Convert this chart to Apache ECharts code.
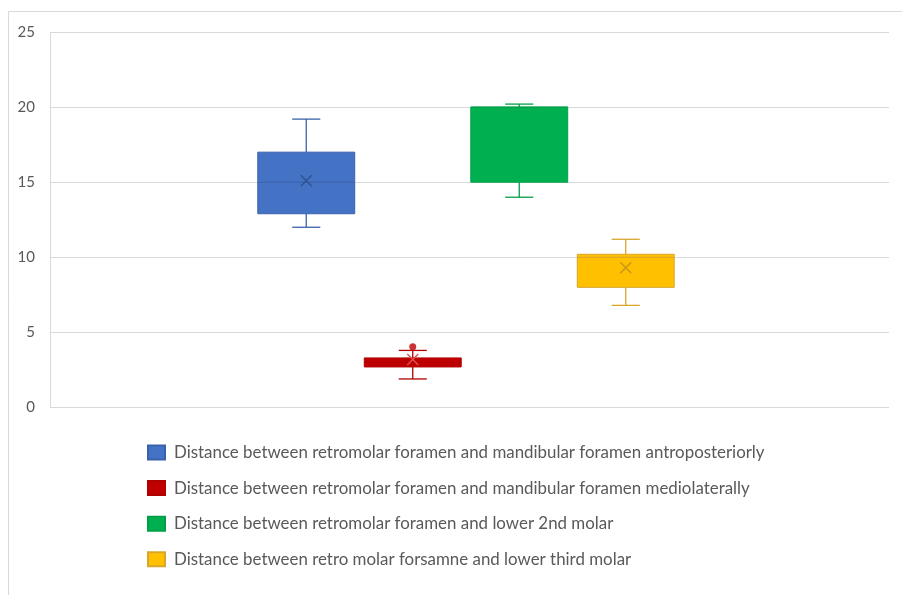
<!DOCTYPE html>
<html>
<head>
<meta charset="utf-8">
<script src="https://cdn.jsdelivr.net/npm/echarts@6/dist/echarts.min.js"></script>
<style>
html,body{margin:0;padding:0;background:#fff;}
#main{width:902px;height:595px;}
</style>
</head>
<body>
<div id="main"></div>
<script>
// ---- data ----
const seriesNames = [
  'Distance between retromolar foramen and mandibular foramen antroposteriorly',
  'Distance between retromolar foramen and mandibular foramen mediolaterally',
  'Distance between retromolar foramen and lower 2nd molar',
  'Distance between retro molar forsamne and lower third molar'
];
const slots = ['A', 'B', 'C', 'D'];
// [min, q1, median, q3, max]
const boxBlue   = [12.0, 12.9, 15.0, 17.0, 19.2];
const boxRed    = [1.9, 2.7, 3.0, 3.3, 3.8];
const boxGreen  = [14.0, 15.0, 20.0, 20.0, 20.2];
const boxYellow = [6.8, 8.0, 10.0, 10.2, 11.2];
const means = [15.1, 3.2, null, 9.3];
const outliersRed = [4.05];
const yTicks = [0, 5, 10, 15, 20, 25];

const fills   = ['#4472C4', '#C00000', '#00B050', '#FFC000'];
const borders = ['#3A62AC', '#B00000', '#00A048', '#D9A62A'];
const meanCol = ['#2F528F', '#E05050', '#00A048', '#C8961A'];
const boxes = [boxBlue, boxRed, boxGreen, boxYellow];

const chart = echarts.init(document.getElementById('main'));

function renderBox(params, api) {
  const xi = api.value(0);
  const v = [api.value(1), api.value(2), api.value(3), api.value(4), api.value(5)];
  const mean = api.value(6);
  const band = api.size([1, 0])[0];
  const bw = band * 0.91;
  const cw = bw * 0.29;
  const c = api.coord([xi, 0])[0];
  const y = v.map(t => api.coord([xi, t])[1]);
  const idx = params.seriesIndex;
  const stroke = borders[idx];
  const children = [
    {type: 'line', shape: {x1: c, y1: y[3], x2: c, y2: y[4]}, style: {stroke: stroke, lineWidth: 1.3}},
    {type: 'line', shape: {x1: c - cw / 2, y1: y[4], x2: c + cw / 2, y2: y[4]}, style: {stroke: stroke, lineWidth: 1.3}},
    {type: 'line', shape: {x1: c, y1: y[1], x2: c, y2: y[0]}, style: {stroke: stroke, lineWidth: 1.3}},
    {type: 'line', shape: {x1: c - cw / 2, y1: y[0], x2: c + cw / 2, y2: y[0]}, style: {stroke: stroke, lineWidth: 1.3}},
    {type: 'rect', shape: {x: c - bw / 2, y: y[3], width: bw, height: y[1] - y[3]}, style: {fill: fills[idx], stroke: stroke, lineWidth: 1}},
    {type: 'line', shape: {x1: c - bw / 2, y1: y[2], x2: c + bw / 2, y2: y[2]}, style: {stroke: stroke, lineWidth: 1}}
  ];
  if (mean != null && !isNaN(mean)) {
    const my = api.coord([xi, mean])[1];
    const s = 5.5;
    children.push({type: 'line', shape: {x1: c - s, y1: my - s, x2: c + s, y2: my + s}, style: {stroke: meanCol[idx], lineWidth: 1.4}});
    children.push({type: 'line', shape: {x1: c - s, y1: my + s, x2: c + s, y2: my - s}, style: {stroke: meanCol[idx], lineWidth: 1.4}});
  }
  return {type: 'group', children: children};
}

const series = boxes.map((b, i) => ({
  name: seriesNames[i],
  type: 'custom',
  xAxisIndex: 1,
  yAxisIndex: 1,
  itemStyle: {color: fills[i], borderColor: borders[i], borderWidth: 1},
  renderItem: renderBox,
  encode: {x: 0, y: [1, 2, 3, 4, 5]},
  data: [[i].concat(b).concat([means[i] == null ? NaN : means[i]])],
  z: 3
}));
series.push({
  name: 'outliers',
  type: 'scatter',
  xAxisIndex: 1,
  yAxisIndex: 1,
  symbolSize: 7,
  itemStyle: {color: '#C00000'},
  data: outliersRed.map(v => [1, v]),
  z: 4
});

const labelFont = 'Lato, "Open Sans", sans-serif';

chart.setOption({
  animation: false,
  backgroundColor: '#ffffff',
  graphic: [{
    type: 'polyline',
    shape: {points: [[8.5, 600], [8.5, 11.5], [905, 11.5]]},
    style: {stroke: '#D9D9D9', lineWidth: 1, fill: null},
    silent: true
  }],
  grid: [
    {left: 50, right: 13, top: 32, bottom: 187.5},
    {left: 253, width: 426, top: 32, bottom: 187.5}
  ],
  xAxis: [
    {gridIndex: 0, type: 'value', min: 0, max: 1, show: false},
    {gridIndex: 1, type: 'category', data: slots, show: false, boundaryGap: true}
  ],
  yAxis: [
    {
      gridIndex: 0, type: 'value', min: yTicks[0], max: yTicks[yTicks.length - 1], interval: 5,
      axisLine: {show: true, lineStyle: {color: '#D9D9D9'}},
      axisTick: {show: false},
      axisLabel: {color: '#595959', fontSize: 15, fontFamily: labelFont, margin: 15},
      splitLine: {show: true, lineStyle: {color: '#D9D9D9', width: 1}}
    },
    {gridIndex: 1, type: 'value', min: 0, max: 25, show: false, splitLine: {show: false}}
  ],
  legend: {
    data: seriesNames,
    orient: 'vertical',
    left: 142,
    top: 439,
    itemWidth: 17,
    itemHeight: 14,
    itemGap: 18.6,
    icon: 'rect',
    textStyle: {color: '#595959', fontSize: 16.9, fontFamily: labelFont, padding: [0, 0, 0, 4]},
    selectedMode: false
  },
  series: series
});
</script>
</body>
</html>
